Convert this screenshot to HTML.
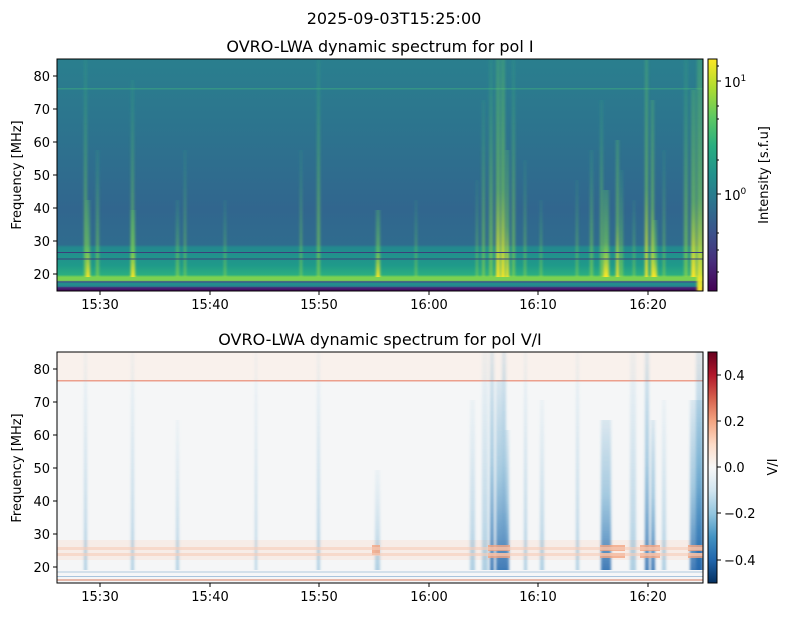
<!DOCTYPE html>
<html><head><meta charset="utf-8"><style>
body{margin:0;background:#fff}
svg text{font-family:"DejaVu Sans","Liberation Sans",sans-serif;fill:#000}
</style></head><body>
<svg width="789" height="617" xmlns="http://www.w3.org/2000/svg">
<defs>
<filter id="bl1" x="-50%" y="0" width="200%" height="100%"><feGaussianBlur stdDeviation="1.2 0"/></filter>
<linearGradient id="bgT" x1="0" y1="59" x2="0" y2="291" gradientUnits="userSpaceOnUse">
<stop offset="0" stop-color="#2a7f8e"/><stop offset="0.35" stop-color="#2d728e"/>
<stop offset="0.65" stop-color="#31668e"/><stop offset="0.8" stop-color="#2f6c8e"/>
<stop offset="0.812" stop-color="#23898e"/><stop offset="0.89" stop-color="#1f9a8a"/>
<stop offset="0.93" stop-color="#2aae80"/><stop offset="0.94" stop-color="#7ad151"/>
<stop offset="0.955" stop-color="#7ad151"/><stop offset="0.96" stop-color="#3b528b"/>
<stop offset="0.968" stop-color="#21918c"/><stop offset="0.98" stop-color="#26828e"/>
<stop offset="0.985" stop-color="#472d7b"/><stop offset="1" stop-color="#440154"/>
</linearGradient>
<linearGradient id="sy" x1="0" y1="0" x2="0" y2="1">
<stop offset="0" stop-color="#5ec962" stop-opacity="0.3"/><stop offset="0.6" stop-color="#7ad151" stop-opacity="0.6"/><stop offset="1" stop-color="#fde725" stop-opacity="1"/>
</linearGradient>
<linearGradient id="sg" x1="0" y1="0" x2="0" y2="1">
<stop offset="0" stop-color="#35b779" stop-opacity="0.15"/><stop offset="1" stop-color="#8fd744" stop-opacity="0.7"/>
</linearGradient>
<linearGradient id="vir" x1="0" y1="1" x2="0" y2="0">
<stop offset="0" stop-color="#440154"/><stop offset="0.125" stop-color="#472d7b"/><stop offset="0.25" stop-color="#3b528b"/><stop offset="0.375" stop-color="#2c728e"/><stop offset="0.5" stop-color="#21918c"/><stop offset="0.625" stop-color="#28ae80"/><stop offset="0.75" stop-color="#5ec962"/><stop offset="0.875" stop-color="#addc30"/><stop offset="1" stop-color="#fde725"/>
</linearGradient>
<linearGradient id="rdbu" x1="0" y1="1" x2="0" y2="0">
<stop offset="0" stop-color="#053061"/><stop offset="0.1" stop-color="#2166ac"/><stop offset="0.2" stop-color="#4393c3"/><stop offset="0.3" stop-color="#92c5de"/><stop offset="0.4" stop-color="#d1e5f0"/><stop offset="0.5" stop-color="#f7f7f7"/><stop offset="0.6" stop-color="#fddbc7"/><stop offset="0.7" stop-color="#f4a582"/><stop offset="0.8" stop-color="#d6604d"/><stop offset="0.9" stop-color="#b2182b"/><stop offset="1" stop-color="#67001f"/>
</linearGradient>
<linearGradient id="bb" x1="0" y1="0" x2="0" y2="1">
<stop offset="0" stop-color="#4393c3" stop-opacity="0.15"/><stop offset="0.5" stop-color="#4393c3" stop-opacity="0.45"/><stop offset="1" stop-color="#2166ac" stop-opacity="0.85"/>
</linearGradient>
<linearGradient id="bl" x1="0" y1="0" x2="0" y2="1">
<stop offset="0" stop-color="#92c5de" stop-opacity="0.1"/><stop offset="1" stop-color="#4393c3" stop-opacity="0.4"/>
</linearGradient>
</defs>

<text x="394" y="24" font-size="16" text-anchor="middle">2025-09-03T15:25:00</text>
<text x="380" y="52" font-size="16" text-anchor="middle">OVRO-LWA dynamic spectrum for pol I</text>

<!-- top panel -->
<rect x="57" y="59" width="646" height="232" fill="url(#bgT)"/>
<rect x="57" y="88" width="646" height="1.5" fill="#3fae7c" opacity="0.5"/>
<g fill="url(#sg)" filter="url(#bl1)">
<rect x="84" y="59" width="3" height="218"/><rect x="96" y="150" width="3" height="127"/>
<rect x="131" y="80" width="3" height="197"/><rect x="176" y="200" width="3" height="77"/>
<rect x="184" y="150" width="2" height="127"/><rect x="224" y="200" width="2" height="77"/>
<rect x="317" y="59" width="3" height="218"/><rect x="300" y="150" width="2" height="127"/>
<rect x="476" y="180" width="2" height="97"/><rect x="482" y="100" width="3" height="177"/>
<rect x="489" y="59" width="4" height="218"/><rect x="512" y="59" width="3" height="218"/>
<rect x="524" y="160" width="2" height="117"/><rect x="540" y="200" width="2" height="77"/>
<rect x="590" y="150" width="3" height="127"/><rect x="600" y="100" width="3" height="177"/>
<rect x="620" y="170" width="3" height="107"/><rect x="633" y="200" width="2" height="77"/>
<rect x="663" y="150" width="2" height="127"/><rect x="684" y="59" width="4" height="218"/>
<rect x="576" y="180" width="2" height="97"/><rect x="415" y="200" width="2" height="77"/>
</g>
<g fill="url(#sy)" filter="url(#bl1)">
<rect x="86" y="200" width="4" height="77"/><rect x="131" y="210" width="4" height="67"/>
<rect x="376" y="210" width="4" height="67"/><rect x="496" y="59" width="4" height="218"/>
<rect x="501" y="59" width="4" height="218"/><rect x="506" y="150" width="3" height="127"/>
<rect x="603" y="190" width="6" height="87"/><rect x="616" y="140" width="3" height="137"/>
<rect x="645" y="60" width="3" height="217"/><rect x="651" y="100" width="3" height="177"/>
<rect x="691" y="90" width="5" height="187"/><rect x="697" y="59" width="6" height="232"/>
<rect x="653" y="220" width="4" height="57"/>
</g>
<rect x="57" y="252" width="646" height="1" fill="#3b3f7a"/>
<rect x="57" y="258.5" width="646" height="1" fill="#3b3f7a"/>
<rect x="57" y="59" width="646" height="232" fill="none" stroke="#000" stroke-width="1"/>
<g font-size="13" text-anchor="end">
<g stroke="#000"><line x1="53" x2="57" y1="76" y2="76"/><line x1="53" x2="57" y1="109" y2="109"/><line x1="53" x2="57" y1="142" y2="142"/><line x1="53" x2="57" y1="175" y2="175"/><line x1="53" x2="57" y1="208" y2="208"/><line x1="53" x2="57" y1="241" y2="241"/><line x1="53" x2="57" y1="274" y2="274"/></g>
<text x="50" y="81">80</text><text x="50" y="114">70</text><text x="50" y="147">60</text><text x="50" y="180">50</text><text x="50" y="213">40</text><text x="50" y="246">30</text><text x="50" y="279">20</text>
</g>
<text transform="translate(21,175) rotate(-90)" font-size="13" text-anchor="middle">Frequency [MHz]</text>
<g stroke="#000"><line x1="100" x2="100" y1="291" y2="295"/><line x1="210" x2="210" y1="291" y2="295"/><line x1="319" x2="319" y1="291" y2="295"/><line x1="429" x2="429" y1="291" y2="295"/><line x1="538" x2="538" y1="291" y2="295"/><line x1="648" x2="648" y1="291" y2="295"/></g>
<g font-size="13" text-anchor="middle"><text x="100" y="309">15:30</text><text x="210" y="309">15:40</text><text x="319" y="309">15:50</text><text x="429" y="309">16:00</text><text x="538" y="309">16:10</text><text x="648" y="309">16:20</text></g>
<rect x="708" y="59" width="9" height="232" fill="url(#vir)" stroke="#000" stroke-width="1"/>
<g stroke="#000"><line x1="717" x2="721" y1="81" y2="81"/><line x1="717" x2="721" y1="194" y2="194"/>
<line x1="717" x2="719" y1="66" y2="66"/><line x1="717" x2="719" y1="106" y2="106"/><line x1="717" x2="719" y1="119" y2="119"/><line x1="717" x2="719" y1="160" y2="160"/><line x1="717" x2="719" y1="233" y2="233"/><line x1="717" x2="719" y1="250" y2="250"/><line x1="717" x2="719" y1="272" y2="272"/></g>
<text x="724" y="87" font-size="13">10<tspan dy="-6" font-size="9">1</tspan></text>
<text x="724" y="200" font-size="13">10<tspan dy="-6" font-size="9">0</tspan></text>
<text transform="translate(768,175) rotate(-90)" font-size="13" text-anchor="middle">Intensity [s.f.u]</text>

<!-- bottom panel -->
<text x="380" y="345" font-size="16" text-anchor="middle">OVRO-LWA dynamic spectrum for pol V/I</text>
<rect x="57" y="352" width="646" height="231" fill="#f5f6f7"/>
<rect x="57" y="352" width="646" height="28" fill="#f9f1ec"/>
<rect x="57" y="380" width="646" height="1.5" fill="#ec9f8c"/>
<rect x="57" y="540" width="646" height="20" fill="#f9e6dc" opacity="0.6"/>
<g fill="url(#bl)" filter="url(#bl1)">
<rect x="84" y="352" width="3" height="218"/><rect x="131" y="352" width="3" height="218"/>
<rect x="176" y="420" width="3" height="150"/><rect x="317" y="352" width="3" height="218"/>
<rect x="255" y="352" width="2" height="218"/><rect x="470" y="400" width="5" height="170"/>
<rect x="482" y="352" width="6" height="218"/><rect x="524" y="352" width="3" height="218"/>
<rect x="540" y="400" width="4" height="170"/><rect x="576" y="352" width="3" height="218"/>
<rect x="630" y="352" width="6" height="218"/><rect x="662" y="400" width="4" height="170"/>
<rect x="375" y="470" width="5" height="100"/>
</g>
<g fill="url(#bb)" filter="url(#bl1)">
<rect x="490" y="352" width="4" height="218"/><rect x="496" y="380" width="6" height="190"/>
<rect x="502" y="352" width="4" height="218"/><rect x="506" y="430" width="3" height="140"/>
<rect x="601" y="420" width="10" height="150"/><rect x="645" y="352" width="4" height="218"/>
<rect x="651" y="420" width="4" height="150"/><rect x="690" y="400" width="13" height="170"/>
<rect x="696" y="352" width="7" height="218"/>
</g>
<g fill="#f4a582" opacity="0.8">
<rect x="488" y="545" width="22" height="6"/><rect x="488" y="553" width="22" height="5"/>
<rect x="600" y="545" width="25" height="6"/><rect x="600" y="553" width="25" height="5"/>
<rect x="640" y="545" width="20" height="6"/><rect x="640" y="553" width="20" height="5"/>
<rect x="688" y="545" width="15" height="6"/><rect x="688" y="553" width="15" height="5"/>
<rect x="372" y="545" width="8" height="10"/>
</g>
<g fill="#f7cdb9" opacity="0.6"><rect x="57" y="547" width="646" height="3"/><rect x="57" y="553" width="646" height="3"/></g>
<rect x="57" y="571" width="646" height="2" fill="#d3e0ea"/>
<rect x="57" y="576" width="646" height="1" fill="#a8c4dc"/>
<rect x="57" y="579" width="646" height="2" fill="#e6b8aa"/>
<rect x="57" y="352" width="646" height="231" fill="none" stroke="#000" stroke-width="1"/>
<g font-size="13" text-anchor="end">
<g stroke="#000"><line x1="53" x2="57" y1="369" y2="369"/><line x1="53" x2="57" y1="402" y2="402"/><line x1="53" x2="57" y1="435" y2="435"/><line x1="53" x2="57" y1="468" y2="468"/><line x1="53" x2="57" y1="501" y2="501"/><line x1="53" x2="57" y1="534" y2="534"/><line x1="53" x2="57" y1="567" y2="567"/></g>
<text x="50" y="374">80</text><text x="50" y="407">70</text><text x="50" y="440">60</text><text x="50" y="473">50</text><text x="50" y="506">40</text><text x="50" y="539">30</text><text x="50" y="572">20</text>
</g>
<text transform="translate(21,468) rotate(-90)" font-size="13" text-anchor="middle">Frequency [MHz]</text>
<g stroke="#000"><line x1="100" x2="100" y1="583" y2="587"/><line x1="210" x2="210" y1="583" y2="587"/><line x1="319" x2="319" y1="583" y2="587"/><line x1="429" x2="429" y1="583" y2="587"/><line x1="538" x2="538" y1="583" y2="587"/><line x1="648" x2="648" y1="583" y2="587"/></g>
<g font-size="13" text-anchor="middle"><text x="100" y="601">15:30</text><text x="210" y="601">15:40</text><text x="319" y="601">15:50</text><text x="429" y="601">16:00</text><text x="538" y="601">16:10</text><text x="648" y="601">16:20</text></g>
<rect x="708" y="352" width="9" height="231" fill="url(#rdbu)" stroke="#000" stroke-width="1"/>
<g stroke="#000"><line x1="717" x2="721" y1="375" y2="375"/><line x1="717" x2="721" y1="421" y2="421"/><line x1="717" x2="721" y1="467" y2="467"/><line x1="717" x2="721" y1="513" y2="513"/><line x1="717" x2="721" y1="560" y2="560"/></g>
<g font-size="13"><text x="724" y="380">0.4</text><text x="724" y="426">0.2</text><text x="724" y="472">0.0</text><text x="724" y="518">−0.2</text><text x="724" y="565">−0.4</text></g>
<text transform="translate(777,467) rotate(-90)" font-size="13" text-anchor="middle">V/I</text>
</svg>
</body></html>
